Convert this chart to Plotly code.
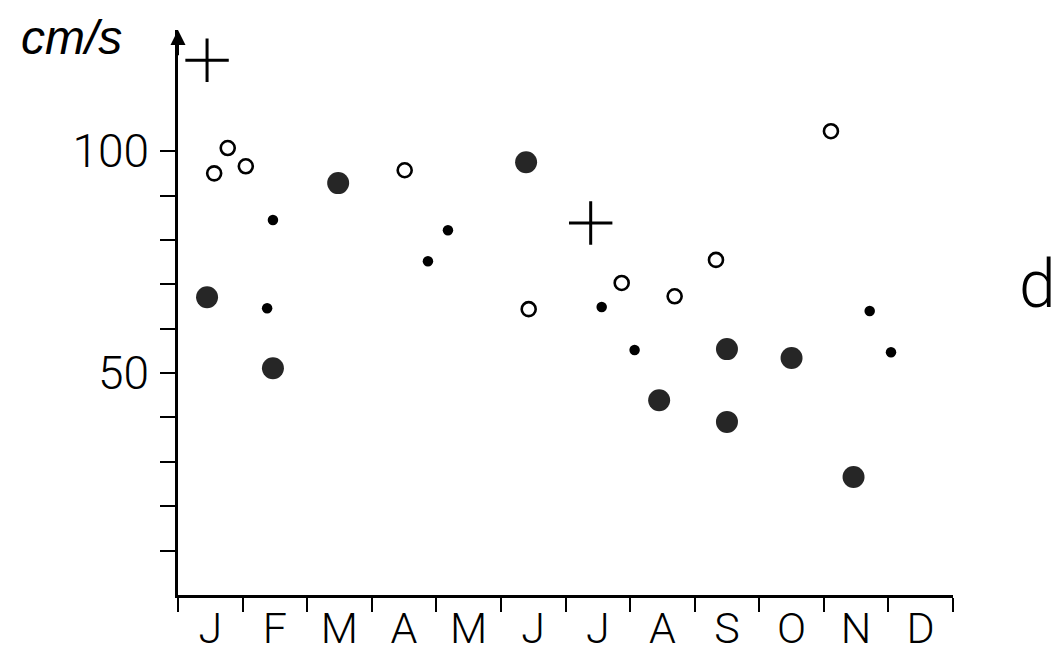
import plotly.graph_objects as go

# x in months (0 = start of January), y in cm/s
months = ["J", "F", "M", "A", "M", "J", "J", "A", "S", "O", "N", "D"]

open_x = [0.56, 0.77, 1.05, 3.51, 5.43, 6.87, 7.69, 8.33, 10.11]
open_y = [95.0, 100.7, 96.6, 95.7, 64.4, 70.3, 67.3, 75.5, 104.5]

big_x = [0.45, 1.47, 2.48, 5.39, 7.45, 8.50, 8.50, 9.50, 10.46]
big_y = [67.1, 51.1, 92.8, 97.5, 43.9, 55.4, 39.0, 53.4, 26.6]

small_x = [1.47, 1.38, 3.87, 4.18, 6.56, 7.07, 10.71, 11.04]
small_y = [84.5, 64.6, 75.2, 82.2, 64.9, 55.2, 64.0, 54.7]

plus_x = [0.45, 6.39]
plus_y = [120.5, 83.8]

y_ticks = [10, 20, 30, 40, 50, 60, 70, 80, 90, 100]
y_labels = ["", "", "", "", "50", "", "", "", "", "100"]

Y_TOP = 127.3

fig = go.Figure()
fig.add_trace(go.Scatter(x=open_x, y=open_y, mode="markers",
                         marker=dict(symbol="circle-open", size=14, color="black",
                                     line=dict(width=2.6, color="black"))))
fig.add_trace(go.Scatter(x=big_x, y=big_y, mode="markers",
                         marker=dict(symbol="circle", size=22, color="#262626",
                                     line=dict(width=0))))
fig.add_trace(go.Scatter(x=small_x, y=small_y, mode="markers",
                         marker=dict(symbol="circle", size=10.5, color="black",
                                     line=dict(width=0))))
fig.add_trace(go.Scatter(x=plus_x, y=plus_y, mode="markers", cliponaxis=False,
                         marker=dict(symbol="cross-thin", size=31, color="black",
                                     line=dict(width=3, color="black"))))

y_font = dict(family="Roboto, Liberation Sans, Arial", size=46, color="black", weight=300)
x_font = dict(family="Roboto, Liberation Sans, Arial", size=43, color="black", weight=300)

# page has an 8px body margin, so the figure is 8px smaller than the window
fig.update_layout(
    width=1051, height=645,
    margin=dict(l=170, r=106, t=22, b=58, autoexpand=False),
    paper_bgcolor="white", plot_bgcolor="white",
    showlegend=False,
    xaxis=dict(range=[0, 12], showgrid=False, zeroline=False, automargin=False,
               showline=True, linecolor="black", linewidth=2.5,
               tickmode="array", tickvals=[i + 0.5 for i in range(12)], ticktext=months,
               ticks="", tickfont=x_font, ticklabelstandoff=-6,
               minor=dict(tickmode="array", tickvals=list(range(13)), ticks="outside",
                          ticklen=14, tickwidth=2, tickcolor="black", showgrid=False)),
    yaxis=dict(range=[0, Y_TOP], showgrid=False, zeroline=False, automargin=False,
               showline=True, linecolor="black", linewidth=2.5,
               tickmode="array", tickvals=y_ticks, ticktext=y_labels,
               ticks="outside", ticklen=15, tickwidth=2, tickcolor="black",
               tickfont=y_font, ticklabelstandoff=2),
    annotations=[
        dict(x=0, y=Y_TOP, xref="x", yref="y", ax=0, ay=Y_TOP - 6, axref="x", ayref="y",
             text="", showarrow=True, arrowhead=2, arrowsize=1.5, arrowwidth=2, arrowcolor="black"),
        dict(x=-0.138, y=1.037, xref="paper", yref="paper", text="<i>cm/s</i>", showarrow=False,
             font=dict(family="Liberation Sans, Arial", size=48, color="black"),
             xanchor="center", yanchor="top"),
        dict(x=1.109, y=0.55, xref="paper", yref="paper", text="d", showarrow=False,
             font=dict(family="Roboto, Liberation Sans, Arial", size=66, color="black", weight=300),
             xanchor="center", yanchor="middle"),
    ],
)

fig.write_html("out.html")
